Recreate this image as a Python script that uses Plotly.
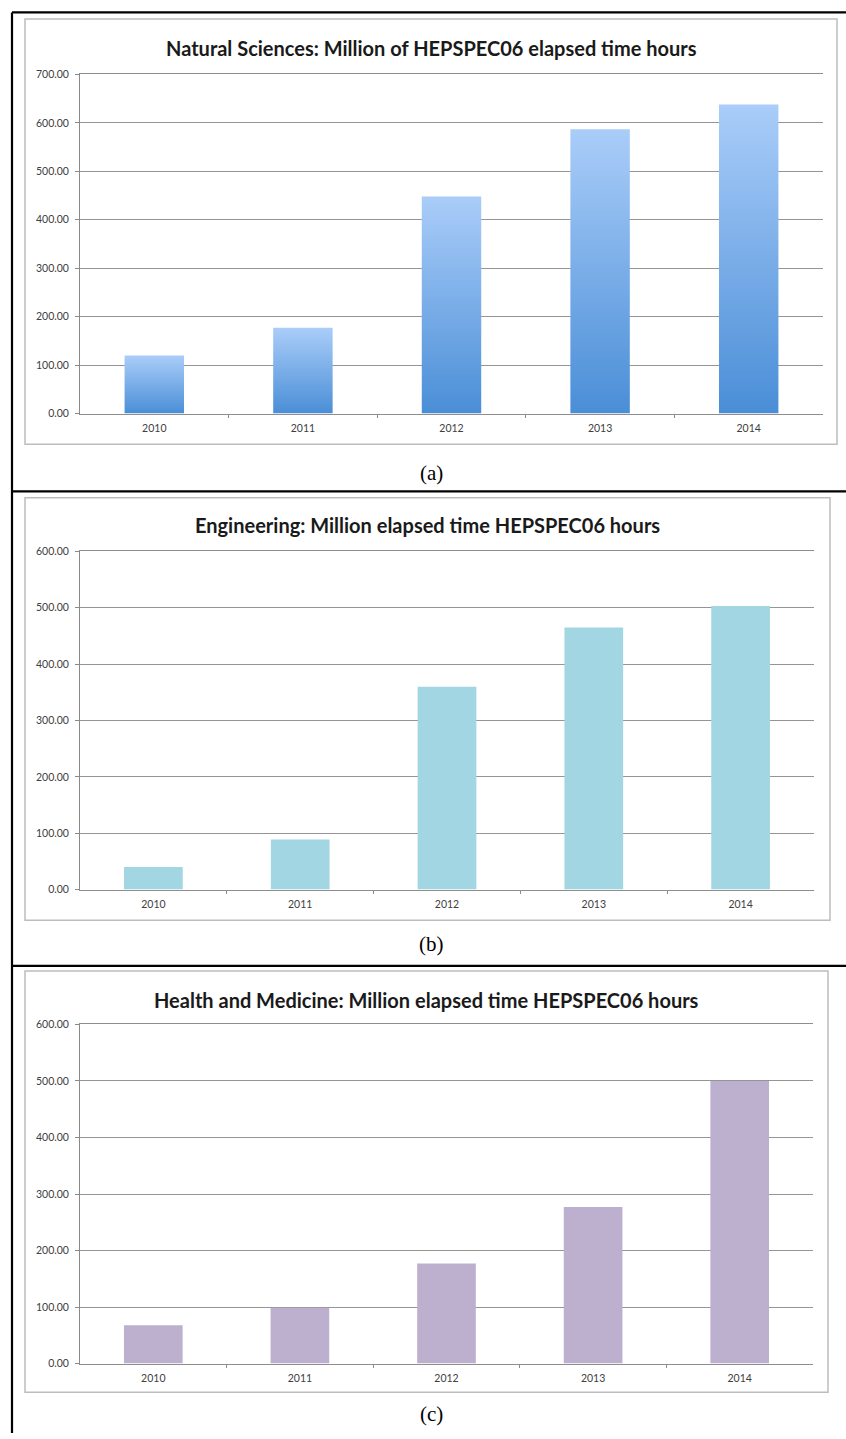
import plotly.graph_objects as go

W, H = 846, 1439

years = ["2010", "2011", "2012", "2013", "2014"]
natural_sciences = [120, 177, 448, 587, 638]
engineering = [40, 89, 360, 465, 503]
health_medicine = [68, 99, 177, 277, 500]

titles = [
    "Natural Sciences: Million of HEPSPEC06 elapsed time hours",
    "Engineering: Million elapsed time HEPSPEC06 hours",
    "Health and Medicine: Million elapsed time HEPSPEC06 hours",
]
captions = ["(a)", "(b)", "(c)"]
y_max = [700, 600, 600]


def px(x):
    return x / W


def py(y):
    return 1 - y / H


# layout geometry (pixels)
panels = [
    dict(plot=(80, 823, 69, 411), box=(25, 837, 13, 442), title_y=42, cap_y=471),
    dict(plot=(80, 814, 550, 891), box=(25, 830, 496, 922), title_y=523, cap_y=946),
    dict(plot=(80, 813, 1027, 1369), box=(25, 828, 973, 1398), title_y=1002, cap_y=1420),
]

fig = go.Figure()
xs = list(range(len(years)))
bw = 0.4

# (a) gradient bars
for i, v in enumerate(natural_sciences):
    fig.add_trace(go.Scatter(
        x=[i - bw / 2, i + bw / 2, i + bw / 2, i - bw / 2, i - bw / 2],
        y=[0, 0, v, v, 0],
        mode="lines", line=dict(width=0, color="rgba(0,0,0,0)"),
        fill="toself",
        fillgradient=dict(type="vertical",
                          colorscale=[[0, "#4A8ED7"], [1, "#AACDF9"]]),
        hoverinfo="text", text=f"{years[i]}: {v}",
        showlegend=False, xaxis="x", yaxis="y",
    ))

fig.add_trace(go.Bar(x=xs, y=engineering, width=bw, marker=dict(color="#A2D6E2", line=dict(width=0)),
                     showlegend=False, xaxis="x2", yaxis="y2"))
fig.add_trace(go.Bar(x=xs, y=health_medicine, width=bw, marker=dict(color="#BDAFCE", line=dict(width=0)),
                     showlegend=False, xaxis="x3", yaxis="y3"))

tick_font = dict(family="Lato, Open Sans, sans-serif", size=10.5, color="#404040")
layout = dict(
    width=W, height=H, margin=dict(l=0, r=0, t=0, b=0),
    paper_bgcolor="white", plot_bgcolor="white",
    showlegend=False,
)
shapes = []
annotations = []
for k, p in enumerate(panels):
    sfx = "" if k == 0 else str(k + 1)
    x0, x1, y0, y1 = p["plot"]
    layout["xaxis" + sfx] = dict(
        domain=[px(x0), px(x1)], range=[-0.5, len(years) - 0.5],
        anchor="y" + sfx, tickvals=xs, ticktext=years, ticks="", showgrid=False,
        zeroline=False, showline=True, linecolor="#8e8e8e", linewidth=1, mirror=True,
        tickfont=tick_font, ticklabelstandoff=5,
        minor=dict(tickvals=[i + 0.5 for i in xs[:-1]], ticks="outside", ticklen=3,
                   tickcolor="#8a8a8a", showgrid=False),
        fixedrange=True,
    )
    layout["yaxis" + sfx] = dict(
        domain=[py(y1), py(y0)], range=[0, y_max[k]], anchor="x" + sfx,
        tickvals=list(range(0, y_max[k] + 1, 100)), tickformat=".2f",
        ticks="outside", ticklen=4, tickcolor="#8a8a8a",
        showgrid=True, gridcolor="#959595", gridwidth=1, zeroline=False,
        showline=True, linecolor="#8a8a8a", linewidth=1,
        tickfont=tick_font, ticklabelstandoff=4, fixedrange=True,
    )
    bx0, bx1, by0, by1 = p["box"]
    shapes.append(dict(type="rect", xref="paper", yref="paper",
                       x0=px(bx0), x1=px(bx1), y0=py(by1), y1=py(by0),
                       line=dict(color="#bdbdbd", width=1.5), layer="below"))
    annotations.append(dict(text=f"<b>{titles[k]}</b>", xref="paper", yref="paper",
                            x=px((bx0 + bx1) / 2), y=py(p["title_y"]), showarrow=False,
                            xanchor="center", yanchor="middle",
                            font=dict(family="Lato, Open Sans, sans-serif", size=20, color="#1a1a1a")))
    annotations.append(dict(text=captions[k], xref="paper", yref="paper",
                            x=px(432), y=py(p["cap_y"]), showarrow=False,
                            xanchor="center", yanchor="middle",
                            font=dict(family="Liberation Serif, Times New Roman, serif", size=21, color="black")))

# outer table frame
for (xa, ya, xb, yb) in [(12, 6.5, 12, H), (12, 6.5, W, 6.5), (12, 489.5, W, 489.5), (12, 968, W, 968)]:
    shapes.append(dict(type="line", xref="paper", yref="paper",
                       x0=px(xa), y0=py(ya), x1=px(xb), y1=py(yb),
                       line=dict(color="black", width=2.2)))

layout["shapes"] = shapes
layout["annotations"] = annotations
fig.update_layout(**layout)
fig.write_html("out.html", config={"displayModeBar": False},
               post_script="document.body.style.margin='0';document.body.style.overflow='hidden';")
